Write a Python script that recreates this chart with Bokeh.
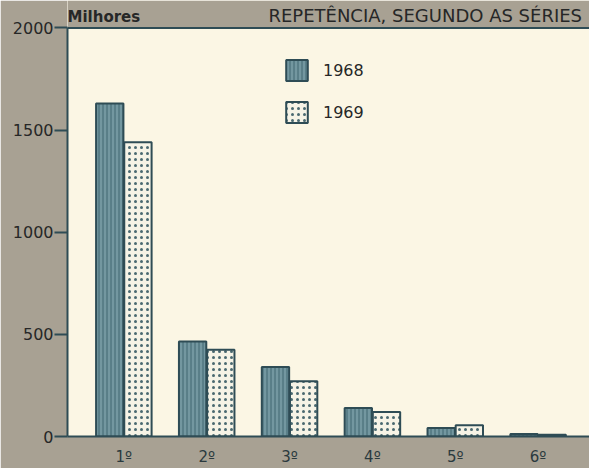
from bokeh.plotting import figure
from bokeh.models import (Range1d, FixedTicker, Label, Legend, LegendItem,
                          ColumnDataSource, Span, BoxAnnotation)
from bokeh.embed import file_html
from bokeh.resources import INLINE

categories = ["1º", "2º", "3º", "4º", "5º", "6º"]
values_1968 = [1630, 465, 340, 140, 42, 12]
values_1969 = [1440, 425, 270, 120, 55, 8]
y_ticks = [0, 500, 1000, 1500, 2000]
y_max = 2000

BG = "#A8A193"
PLOT_BG = "#FBF6E4"
DARK = "#2E4C55"
TEXT = "#262727"
FONT = "DejaVu Sans"

idx = list(range(len(categories)))
src = ColumnDataSource(dict(
    x68=[i - 0.17 for i in idx],
    x69=[i + 0.17 for i in idx],
    v68=values_1968,
    v69=values_1969,
))

# frame reaches the top of the canvas; the band above y_max is painted as border
p = figure(width=589, height=468, output_backend="svg", toolbar_location=None,
           x_range=Range1d(-0.68, 5.62), y_range=Range1d(0, 2134),
           min_border_left=67, min_border_right=0, min_border_top=0, min_border_bottom=23)
p.background_fill_color = PLOT_BG
p.border_fill_color = BG
p.outline_line_color = None
p.grid.visible = False

p.add_layout(BoxAnnotation(bottom=y_max, fill_color=BG, fill_alpha=1, line_color=None, level="underlay"))

r68 = p.vbar(x="x68", top="v68", width=0.33, bottom=0, source=src,
             fill_color="#7397A0", line_color=DARK, line_width=2,
             hatch_pattern="vertical_line", hatch_color="#3F6570", hatch_scale=4, hatch_weight=1)
r69 = p.vbar(x="x69", top="v69", width=0.33, bottom=0, source=src,
             fill_color="#F6F3E6", line_color=DARK, line_width=2,
             hatch_pattern="dot", hatch_color="#4A6970", hatch_scale=6, hatch_weight=1.6)

p.add_layout(Span(location=y_max, dimension="width", line_color=DARK, line_width=2))

# y axis
p.yaxis.ticker = FixedTicker(ticks=y_ticks)
p.yaxis.bounds = (0, y_max)
p.yaxis.axis_line_color = DARK
p.yaxis.axis_line_width = 2
p.yaxis.major_tick_line_color = DARK
p.yaxis.major_tick_line_width = 2
p.yaxis.major_tick_out = 13
p.yaxis.major_tick_in = 0
p.yaxis.minor_tick_line_color = None
p.yaxis.major_label_text_font = FONT
p.yaxis.major_label_text_font_size = "16px"
p.yaxis.major_label_text_color = TEXT
p.yaxis.major_label_standoff = 1

# x axis
p.xaxis.ticker = FixedTicker(ticks=idx)
p.xaxis.major_label_overrides = {i: c for i, c in zip(idx, categories)}
p.xaxis.axis_line_color = DARK
p.xaxis.axis_line_width = 2
p.xaxis.major_tick_line_color = None
p.xaxis.minor_tick_line_color = None
p.xaxis.major_label_text_font = FONT
p.xaxis.major_label_text_font_size = "15px"
p.xaxis.major_label_text_color = "#2B3A3E"
p.xaxis.major_label_standoff = 5

p.add_layout(Label(x=-0.68, y=2052, text="Milhores",
                   text_font=FONT, text_font_style="bold", text_font_size="15px",
                   text_color=TEXT, text_baseline="middle"))
p.add_layout(Label(x=1.745, y=2061, text="REPETÊNCIA, SEGUNDO AS SÉRIES",
                   text_font=FONT, text_font_size="18px", text_color=TEXT,
                   text_baseline="middle"))

legend = Legend(items=[LegendItem(label="1968", renderers=[r68]),
                       LegendItem(label="1969", renderers=[r69])],
                location=(216, 311), orientation="vertical",
                glyph_width=27, glyph_height=26, label_height=26, spacing=16,
                padding=0, margin=0, label_standoff=13,
                label_text_font=FONT, label_text_font_size="16px", label_text_color=TEXT,
                background_fill_alpha=0, border_line_color=None)
p.add_layout(legend)

open("out.html", "w").write(file_html(p, INLINE))
